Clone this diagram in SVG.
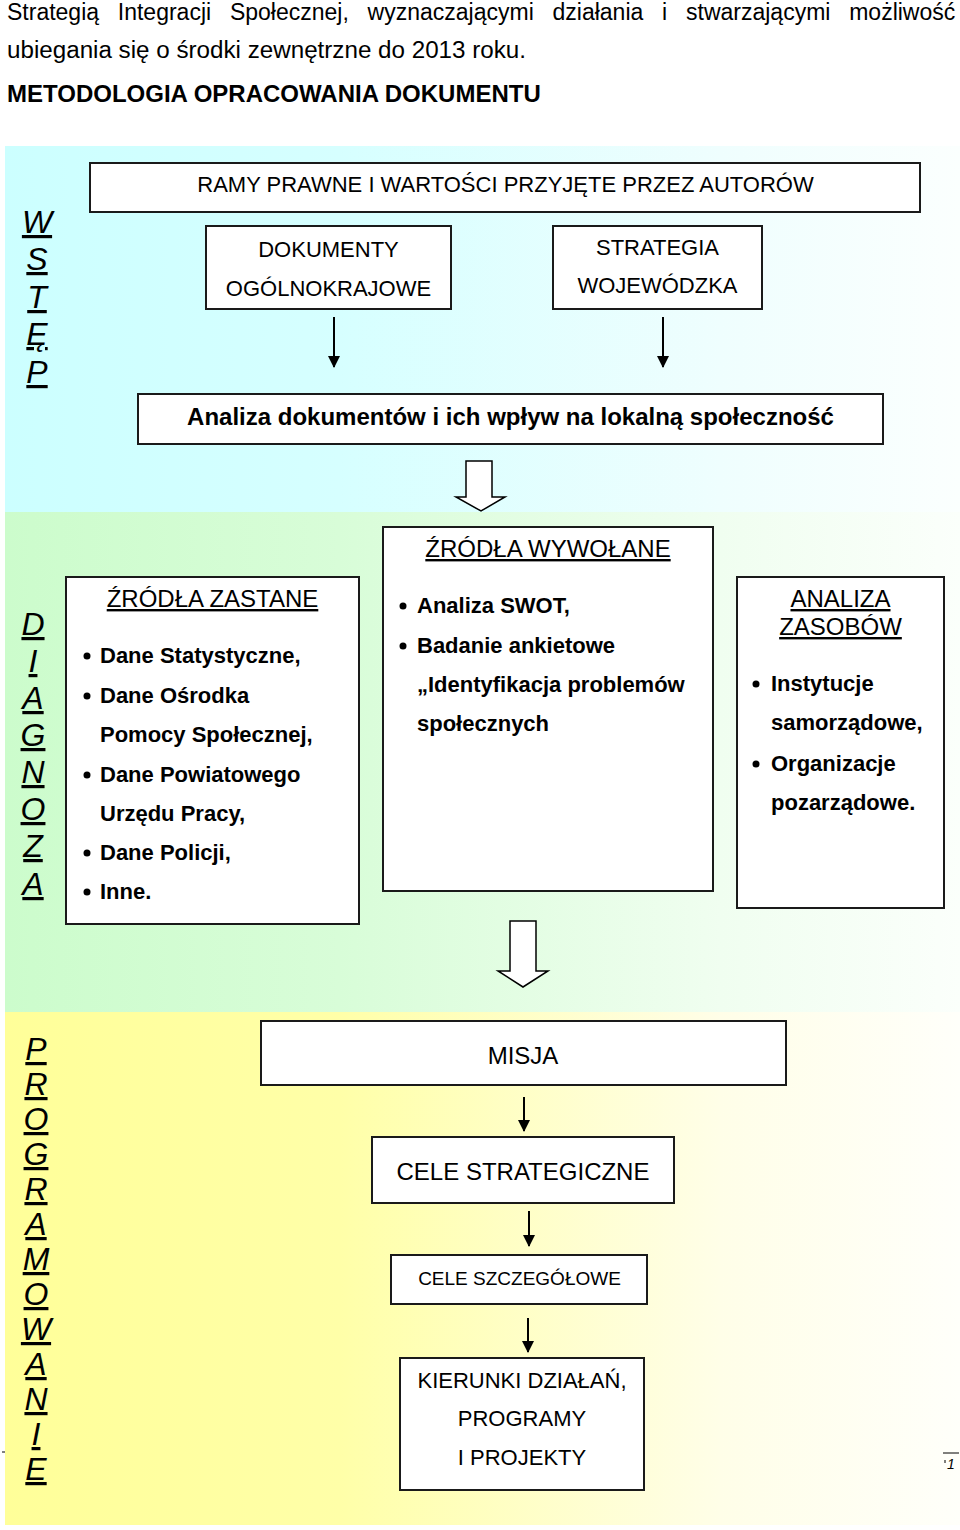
<svg xmlns="http://www.w3.org/2000/svg" width="960" height="1530" viewBox="0 0 960 1530">
<defs>
<linearGradient id="gCyan" x1="0" y1="0" x2="1" y2="0">
<stop offset="0" stop-color="#ccffff"/><stop offset="0.35" stop-color="#d6ffff"/><stop offset="0.75" stop-color="#effefe"/><stop offset="1" stop-color="#fbfffe"/>
</linearGradient>
<linearGradient id="gGreen" x1="0" y1="0" x2="1" y2="0">
<stop offset="0" stop-color="#ccfccc"/><stop offset="0.35" stop-color="#d8fdd8"/><stop offset="0.75" stop-color="#f0fef0"/><stop offset="1" stop-color="#fbfffb"/>
</linearGradient>
<linearGradient id="gYellow" x1="0" y1="0" x2="1" y2="0">
<stop offset="0" stop-color="#ffff99"/><stop offset="0.35" stop-color="#ffffa8"/><stop offset="0.75" stop-color="#fffee8"/><stop offset="1" stop-color="#fffffa"/>
</linearGradient>
<marker id="ah" markerWidth="12" markerHeight="12" refX="11" refY="6" orient="auto" markerUnits="userSpaceOnUse" viewBox="0 0 12 12">
<path d="M0,0 L12,6 L0,12 Z" fill="#000"/>
</marker>
<style>
text{font-family:"Liberation Sans",Arial,sans-serif;fill:#000;}
.box{fill:#fff;stroke:#1a1a1a;stroke-width:2;}
.r22{font-size:22px;}
.r24{font-size:24px;}
.b22{font-size:22px;font-weight:bold;}
.b24{font-size:24px;font-weight:bold;}
.c{text-anchor:middle;}
.u{text-decoration:underline;}
.side{font-size:32px;font-style:italic;text-decoration:underline;text-anchor:middle;}
.thin{stroke:#000;stroke-width:2;fill:none;}
.block{fill:#fff;stroke:#000;stroke-width:1.5;}
</style>
</defs>

<g id="header">
<text x="7" y="20" font-size="23"><tspan x="7">Strategią</tspan><tspan x="117.8">Integracji</tspan><tspan x="229.9">Społecznej,</tspan><tspan x="367.6">wyznaczającymi</tspan><tspan x="552.5">działania</tspan><tspan x="662.1">i</tspan><tspan x="686">stwarzającymi</tspan><tspan x="849.2">możliwość</tspan></text>
<text x="7" y="58" font-size="23" textLength="519" lengthAdjust="spacingAndGlyphs">ubiegania się o środki zewnętrzne do 2013 roku.</text>
<text x="7" y="102" class="b24">METODOLOGIA OPRACOWANIA DOKUMENTU</text>
</g>

<g id="bands">
<rect x="5" y="146" width="955" height="366" fill="url(#gCyan)"/>
<rect x="5" y="512" width="955" height="500" fill="url(#gGreen)"/>
<rect x="5" y="1012" width="955" height="513" fill="url(#gYellow)"/>
</g>

<g id="label-wstep">
<text class="side" x="37" y="233">W</text>
<text class="side" x="37" y="270">S</text>
<text class="side" x="37" y="308">T</text>
<text class="side" x="37" y="345">Ę</text>
<text class="side" x="37" y="383">P</text>
</g>

<g id="label-diagnoza">
<text class="side" x="33" y="635">D</text>
<text class="side" x="33" y="672">I</text>
<text class="side" x="33" y="709">A</text>
<text class="side" x="33" y="746">G</text>
<text class="side" x="33" y="783">N</text>
<text class="side" x="33" y="820">O</text>
<text class="side" x="33" y="857">Z</text>
<text class="side" x="33" y="895">A</text>
</g>

<g id="label-programowanie">
<text class="side" x="36" y="1060">P</text>
<text class="side" x="36" y="1095">R</text>
<text class="side" x="36" y="1130">O</text>
<text class="side" x="36" y="1165">G</text>
<text class="side" x="36" y="1200">R</text>
<text class="side" x="36" y="1235">A</text>
<text class="side" x="36" y="1270">M</text>
<text class="side" x="36" y="1305">O</text>
<text class="side" x="36" y="1340">W</text>
<text class="side" x="36" y="1375">A</text>
<text class="side" x="36" y="1410">N</text>
<text class="side" x="36" y="1445">I</text>
<text class="side" x="36" y="1480">E</text>
</g>

<g id="node-ramy">
<rect class="box" x="90" y="163" width="830" height="49"/>
<text class="r22 c" x="505.5" y="192">RAMY PRAWNE I WARTOŚCI PRZYJĘTE PRZEZ AUTORÓW</text>
</g>

<g id="node-dokumenty">
<rect class="box" x="206" y="226" width="245" height="83"/>
<text class="r22 c" x="328.5" y="257">DOKUMENTY</text>
<text class="r22 c" x="328.5" y="296">OGÓLNOKRAJOWE</text>
</g>

<g id="node-strategia">
<rect class="box" x="553" y="226" width="209" height="83"/>
<text class="r22 c" x="657.5" y="255">STRATEGIA</text>
<text class="r22 c" x="657.5" y="293">WOJEWÓDZKA</text>
</g>

<g id="node-analiza">
<rect class="box" x="138" y="394" width="745" height="50"/>
<text class="b24 c" x="510.5" y="425">Analiza dokumentów i ich wpływ na lokalną społeczność</text>
</g>

<g id="node-zastane">
<rect class="box" x="66" y="577" width="293" height="347"/>
<text class="r24 c u" x="212.5" y="607">ŹRÓDŁA ZASTANE</text>
<circle cx="87" cy="656" r="3.5"/>
<text class="b22" x="100" y="663">Dane Statystyczne,</text>
<circle cx="87" cy="696" r="3.5"/>
<text class="b22" x="100" y="703">Dane Ośrodka</text>
<text class="b22" x="100" y="742">Pomocy Społecznej,</text>
<circle cx="87" cy="775" r="3.5"/>
<text class="b22" x="100" y="782">Dane Powiatowego</text>
<text class="b22" x="100" y="821">Urzędu Pracy,</text>
<circle cx="87" cy="853" r="3.5"/>
<text class="b22" x="100" y="860">Dane Policji,</text>
<circle cx="87" cy="892" r="3.5"/>
<text class="b22" x="100" y="899">Inne.</text>
</g>

<g id="node-wywolane">
<rect class="box" x="383" y="527" width="330" height="364"/>
<text class="r24 c u" x="548" y="557">ŹRÓDŁA WYWOŁANE</text>
<circle cx="403" cy="606" r="3.5"/>
<text class="b22" x="417" y="613">Analiza SWOT,</text>
<circle cx="403" cy="646" r="3.5"/>
<text class="b22" x="417" y="653">Badanie ankietowe</text>
<text class="b22" x="417" y="692">„Identyfikacja problemów</text>
<text class="b22" x="417" y="731">społecznych</text>
</g>

<g id="node-zasoby">
<rect class="box" x="737" y="577" width="207" height="331"/>
<text class="r24 c u" x="840.5" y="607">ANALIZA</text>
<text class="r24 c u" x="840.5" y="635">ZASOBÓW</text>
<circle cx="756" cy="684" r="3.5"/>
<text class="b22" x="771" y="691">Instytucje</text>
<text class="b22" x="771" y="730">samorządowe,</text>
<circle cx="756" cy="764" r="3.5"/>
<text class="b22" x="771" y="771">Organizacje</text>
<text class="b22" x="771" y="810">pozarządowe.</text>
</g>

<g id="node-misja">
<rect class="box" x="261" y="1021" width="525" height="64"/>
<text class="r24 c" x="523" y="1064">MISJA</text>
</g>

<g id="node-cele-strategiczne">
<rect class="box" x="372" y="1137" width="302" height="66"/>
<text class="r24 c" x="523" y="1180">CELE STRATEGICZNE</text>
</g>

<g id="node-cele-szczegolowe">
<rect class="box" x="391" y="1255" width="256" height="49"/>
<text class="c" font-size="19" x="519.5" y="1285">CELE SZCZEGÓŁOWE</text>
</g>

<g id="node-kierunki">
<rect class="box" x="400" y="1358" width="244" height="132"/>
<text class="r22 c" x="522" y="1388">KIERUNKI DZIAŁAŃ,</text>
<text class="r22 c" x="522" y="1426">PROGRAMY</text>
<text class="r22 c" x="522" y="1465">I PROJEKTY</text>
</g>

<g id="connectors">
<line class="thin" x1="334" y1="317" x2="334" y2="367" marker-end="url(#ah)"/>
<line class="thin" x1="663" y1="317" x2="663" y2="367" marker-end="url(#ah)"/>
<path class="block" d="M466,461 L492,461 L492,497 L505,497 L481,511 L456,497 L466,497 Z"/>
<path class="block" d="M510,921 L536,921 L536,971 L548,971 L523,987 L498,971 L510,971 Z"/>
<line class="thin" x1="524" y1="1097" x2="524" y2="1131" marker-end="url(#ah)"/>
<line class="thin" x1="529" y1="1211" x2="529" y2="1246" marker-end="url(#ah)"/>
<line class="thin" x1="528" y1="1318" x2="528" y2="1352" marker-end="url(#ah)"/>
</g>

<g id="footer">
<line x1="2" y1="1452" x2="5" y2="1452" stroke="#000" stroke-width="1"/>
<line x1="943" y1="1453" x2="959" y2="1453" stroke="#000" stroke-width="1"/>
<line x1="945" y1="1460" x2="945" y2="1463" stroke="#000" stroke-width="1"/>
<text x="947" y="1469" font-size="14" font-style="italic">1</text>
</g>
</svg>
